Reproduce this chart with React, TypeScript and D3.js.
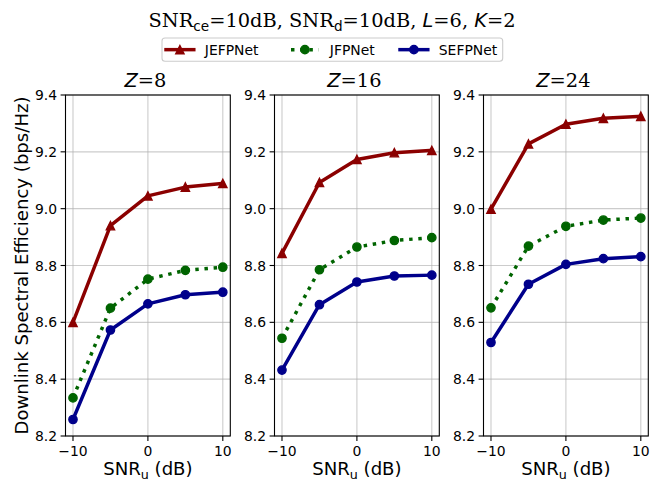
import React from "react";
import * as d3 from "d3";

const snrU = [-10, -5, 0, 5, 10];
const zValues = [8, 16, 24];
const jefpnet = [
  [8.6, 8.94, 9.045, 9.076, 9.089],
  [8.843, 9.092, 9.173, 9.197, 9.205],
  [8.998, 9.228, 9.297, 9.318, 9.325],
];
const jfpnet = [
  [8.334, 8.65, 8.752, 8.783, 8.794],
  [8.544, 8.785, 8.865, 8.888, 8.898],
  [8.651, 8.868, 8.938, 8.96, 8.967],
];
const sefpnet = [
  [8.258, 8.573, 8.665, 8.697, 8.706],
  [8.432, 8.662, 8.742, 8.763, 8.766],
  [8.529, 8.734, 8.804, 8.824, 8.831],
];
const yTicks = [8.2, 8.4, 8.6, 8.8, 9.0, 9.2, 9.4];
const xTicks = [-10, 0, 10];

const W = 660;
const H = 480;
const panelLefts = [65.5, 274.5, 483.5];
const panelWidth = 164.8;
const top = 95;
const bottom = 436;
const LW = 3.47;
const MS = 8.3;
const MEW = 1.39;
const sans = "'DejaVu Sans', sans-serif";
const serif = "'DejaVu Serif', serif";

const series = [
  { name: "JEFPNet", data: jefpnet, color: "#8b0000", marker: "tri", dash: undefined as string | undefined },
  { name: "JFPNet", data: jfpnet, color: "#006400", marker: "circle", dash: `${LW * 1} ${LW * 1.65}` },
  { name: "SEFPNet", data: sefpnet, color: "#00008b", marker: "circle", dash: undefined as string | undefined },
];

function Marker({ kind, x, y, color }: { kind: string; x: number; y: number; color: string }) {
  if (kind === "tri") {
    const h = MS / 2;
    const pts = `${x},${y - h} ${x - h},${y + h} ${x + h},${y + h}`;
    return <polygon points={pts} fill={color} stroke={color} strokeWidth={MEW} strokeLinejoin="miter" />;
  }
  return <circle cx={x} cy={y} r={MS / 2} fill={color} stroke={color} strokeWidth={MEW} />;
}

function Panel({ idx }: { idx: number }) {
  const left = panelLefts[idx];
  const right = left + panelWidth;
  const x = d3.scaleLinear().domain([-11, 11]).range([left, right]);
  const y = d3.scaleLinear().domain([8.2, 9.4]).range([bottom, top]);
  const line = d3
    .line<number>()
    .x((_, i) => x(snrU[i]))
    .y((d) => y(d));
  const cx = (left + right) / 2;
  return (
    <g>
      {xTicks.map((t) => (
        <line key={"gx" + t} x1={x(t)} x2={x(t)} y1={top} y2={bottom} stroke="#b0b0b0" strokeOpacity={0.65} strokeWidth={1.1} />
      ))}
      {yTicks.map((t) => (
        <line key={"gy" + t} x1={left} x2={right} y1={y(t)} y2={y(t)} stroke="#b0b0b0" strokeOpacity={0.65} strokeWidth={1.1} />
      ))}
      {series.map((s) => (
        <g key={s.name}>
          <path
            d={line(s.data[idx]) || ""}
            fill="none"
            stroke={s.color}
            strokeWidth={LW}
            strokeDasharray={s.dash}
            strokeLinecap={s.dash ? "butt" : "square"}
            strokeLinejoin="round"
          />
          {s.data[idx].map((v, i) => (
            <Marker key={i} kind={s.marker} x={x(snrU[i])} y={y(v)} color={s.color} />
          ))}
        </g>
      ))}
      <rect x={left} y={top} width={panelWidth} height={bottom - top} fill="none" stroke="#000" strokeWidth={1.1} />
      {yTicks.map((t) => (
        <g key={"ty" + t}>
          <line x1={left - 4.9} x2={left} y1={y(t)} y2={y(t)} stroke="#000" strokeWidth={1.1} />
          <text x={left - 8.5} y={y(t)} dy="0.36em" textAnchor="end" fontFamily={sans} fontSize={13.9} fill="#000">
            {t.toFixed(1)}
          </text>
        </g>
      ))}
      {xTicks.map((t) => (
        <g key={"tx" + t}>
          <line x1={x(t)} x2={x(t)} y1={bottom} y2={bottom + 4.9} stroke="#000" strokeWidth={1.1} />
          <text x={x(t)} y={455.5} textAnchor="middle" fontFamily={sans} fontSize={13.9} fill="#000">
            {t < 0 ? "\u2212" + Math.abs(t) : String(t)}
          </text>
        </g>
      ))}
      <text x={cx} y={475} textAnchor="middle" fontFamily={sans} fontSize={18.1} fill="#000">
        SNR
        <tspan fontSize={12.7} dy={3.5}>u</tspan>
        <tspan dy={-3.5}> (dB)</tspan>
      </text>
      <text x={cx - 2.5} y={87} textAnchor="middle" fontSize={19.4} fill="#000">
        <tspan fontFamily={sans} fontStyle="italic">Z</tspan>
        <tspan fontFamily={serif}>={zValues[idx]}</tspan>
      </text>
    </g>
  );
}

function Legend() {
  const x0 = 162;
  const y0 = 38;
  const w = 340.7;
  const h = 23.3;
  const cy = y0 + h / 2;
  const handleStarts = [166, 291, 400];
  const hl = 27.8;
  return (
    <g>
      <rect x={x0} y={y0} width={w} height={h} rx={3} fill="#fff" stroke="#cccccc" strokeWidth={1.1} />
      {series.map((s, i) => {
        const hx = handleStarts[i];
        return (
          <g key={s.name}>
            <line
              x1={hx}
              x2={hx + hl}
              y1={cy}
              y2={cy}
              stroke={s.color}
              strokeWidth={LW}
              strokeDasharray={s.dash}
              strokeLinecap={s.dash ? "butt" : "square"}
            />
            <Marker kind={s.marker} x={hx + hl / 2} y={cy} color={s.color} />
            <text x={hx + hl + 11} y={cy} dy="0.36em" fontFamily={sans} fontSize={13.9} fill="#000">
              {s.name}
            </text>
          </g>
        );
      })}
    </g>
  );
}

export default function App() {
  return (
    <svg
      width={W}
      height={H}
      viewBox={`0 0 ${W} ${H}`}
      style={{ position: "absolute", left: 0, top: 0, background: "#fff" }}
    >
      <rect x={0} y={0} width={W} height={H} fill="#fff" />
      <text x={332} y={27} textAnchor="middle" fontSize={19.4} fill="#000" fontFamily={serif}>
        SNR
        <tspan fontFamily={sans} fontSize={13.6} dy={4}>ce</tspan>
        <tspan dy={-4}>=10dB, SNR</tspan>
        <tspan fontFamily={sans} fontSize={13.6} dy={4}>d</tspan>
        <tspan dy={-4}>=10dB, </tspan>
        <tspan fontFamily={sans} fontStyle="italic">L</tspan>
        <tspan>=6, </tspan>
        <tspan fontFamily={sans} fontStyle="italic">K</tspan>
        <tspan>=2</tspan>
      </text>
      <Legend />
      <text
        transform={`translate(28.3,265.5) rotate(-90)`}
        textAnchor="middle"
        fontFamily={sans}
        fontSize={18.1}
        fill="#000"
      >
        Downlink Spectral Efficiency (bps/Hz)
      </text>
      {zValues.map((_, i) => (
        <Panel key={i} idx={i} />
      ))}
    </svg>
  );
}
